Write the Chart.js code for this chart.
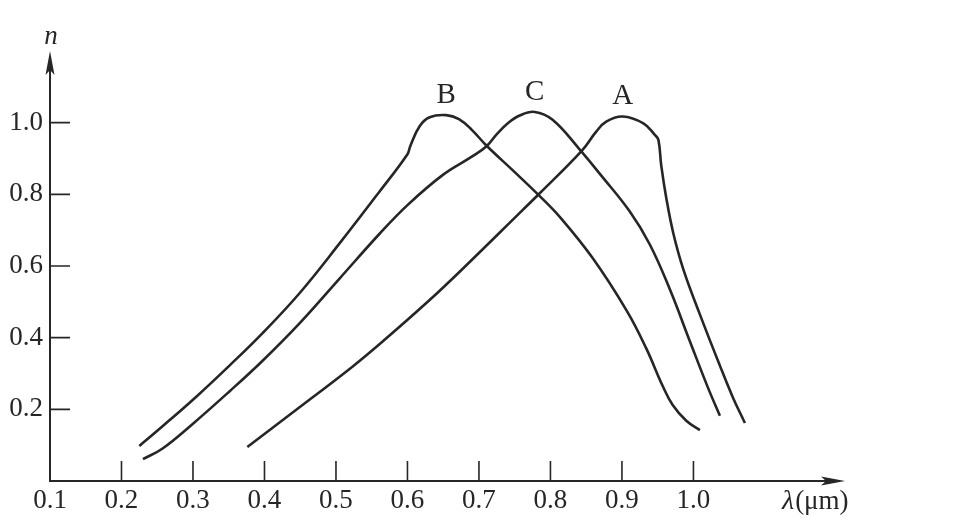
<!DOCTYPE html>
<html>
<head>
<meta charset="utf-8">
<script src="https://cdn.jsdelivr.net/npm/chart.js@4.4.1/dist/chart.umd.min.js"></script>
<style>
html,body{margin:0;padding:0;background:#fff;}
#wrap{width:977px;height:525px;}
</style>
</head>
<body>
<div id="wrap"><canvas id="c" width="977" height="525"></canvas></div>
<script>
// ---- data ----
const curveNames = ['A', 'B', 'C'];

const aX = [0.376, 0.444, 0.523, 0.568, 0.631, 0.673, 0.761, 0.785, 0.844, 0.864, 0.878, 0.901, 0.930, 0.946, 0.951, 0.955, 0.962, 0.972, 0.986, 1.009, 1.037, 1.055, 1.072];
const aY = [0.095, 0.198, 0.319, 0.394, 0.505, 0.584, 0.756, 0.803, 0.922, 0.975, 1.003, 1.017, 0.998, 0.966, 0.952, 0.880, 0.790, 0.690, 0.590, 0.465, 0.322, 0.234, 0.162];

const bX = [0.225, 0.257, 0.305, 0.351, 0.397, 0.449, 0.505, 0.561, 0.600, 0.604, 0.617, 0.631, 0.654, 0.672, 0.690, 0.710, 0.750, 0.785, 0.813, 0.859, 0.907, 0.934, 0.957, 0.971, 0.990, 1.009];
const bY = [0.098, 0.152, 0.236, 0.322, 0.412, 0.524, 0.663, 0.808, 0.912, 0.935, 0.990, 1.015, 1.021, 1.010, 0.980, 0.937, 0.862, 0.795, 0.737, 0.622, 0.474, 0.370, 0.265, 0.212, 0.168, 0.142];

const cX = [0.230, 0.257, 0.300, 0.351, 0.397, 0.449, 0.505, 0.561, 0.600, 0.650, 0.690, 0.711, 0.725, 0.740, 0.757, 0.778, 0.803, 0.841, 0.870, 0.911, 0.939, 0.967, 0.995, 1.020, 1.037];
const cY = [0.061, 0.090, 0.160, 0.250, 0.335, 0.440, 0.565, 0.690, 0.770, 0.855, 0.905, 0.935, 0.968, 0.998, 1.020, 1.030, 1.008, 0.925, 0.855, 0.752, 0.660, 0.535, 0.390, 0.262, 0.182];

const xTickValues = [0.1, 0.2, 0.3, 0.4, 0.5, 0.6, 0.7, 0.8, 0.9, 1.0];
const xTickLabels = ['0.1', '0.2', '0.3', '0.4', '0.5', '0.6', '0.7', '0.8', '0.9', '1.0'];
const yTickValues = [0.2, 0.4, 0.6, 0.8, 1.0];
const yTickLabels = ['0.2', '0.4', '0.6', '0.8', '1.0'];
const yAxisTitle = 'n';
const xAxisTitleSymbol = 'λ';
const xAxisTitleUnit = '(μm)';

// ---- build ----
function pts(xs, ys) { return xs.map((x, i) => ({ x: x, y: ys[i] })); }
const ink = '#262626';
const serif = '"Liberation Serif", "DejaVu Serif", serif';

const seriesData = { A: pts(aX, aY), B: pts(bX, bY), C: pts(cX, cY) };
const datasets = curveNames.map(n => ({
  label: n,
  data: seriesData[n],
  showLine: true,
  borderColor: ink,
  borderWidth: 2.6,
  pointRadius: 0,
  tension: 0.4,
  fill: false
}));

const axisPlugin = {
  id: 'axisPlugin',
  afterDatasetsDraw(chart) {
    const ctx = chart.ctx;
    const xs = chart.scales.x, ys = chart.scales.y;
    const x0 = xs.getPixelForValue(0.1);
    const y0 = ys.getPixelForValue(0);
    const xEnd = chart.chartArea.right;
    const yEnd = chart.chartArea.top;
    ctx.save();
    ctx.strokeStyle = ink;
    ctx.fillStyle = ink;
    ctx.lineWidth = 2;
    // axes
    ctx.beginPath();
    ctx.moveTo(x0 - 1, y0);
    ctx.lineTo(xEnd - 10, y0);
    ctx.moveTo(x0, y0 + 1);
    ctx.lineTo(x0, yEnd + 10);
    ctx.stroke();
    // arrow heads
    ctx.beginPath();
    ctx.moveTo(xEnd, y0);
    ctx.lineTo(xEnd - 24, y0 - 4.5);
    ctx.lineTo(xEnd - 19, y0);
    ctx.lineTo(xEnd - 24, y0 + 4.5);
    ctx.closePath();
    ctx.fill();
    ctx.beginPath();
    ctx.moveTo(x0, yEnd);
    ctx.lineTo(x0 - 4.5, yEnd + 24);
    ctx.lineTo(x0, yEnd + 19);
    ctx.lineTo(x0 + 4.5, yEnd + 24);
    ctx.closePath();
    ctx.fill();
    // inward tick marks
    ctx.lineWidth = 1.6;
    ctx.beginPath();
    xTickValues.forEach(v => {
      if (v <= 0.1) return;
      const px = xs.getPixelForValue(v);
      ctx.moveTo(px, y0);
      ctx.lineTo(px, y0 - 20);
    });
    yTickValues.forEach(v => {
      const py = ys.getPixelForValue(v);
      ctx.moveTo(x0, py);
      ctx.lineTo(x0 + 20, py);
    });
    ctx.stroke();
    // axis titles
    ctx.textBaseline = 'alphabetic';
    ctx.textAlign = 'center';
    ctx.font = 'italic 27px ' + serif;
    ctx.fillText(yAxisTitle, x0 + 1, yEnd - 7);
    ctx.textAlign = 'left';
    ctx.font = 'italic 28px ' + serif;
    const tx = xEnd - 63;
    const ty = y0 + 28;
    ctx.fillText(xAxisTitleSymbol, tx, ty);
    const w = ctx.measureText(xAxisTitleSymbol).width;
    ctx.font = '27px ' + serif;
    ctx.fillText(xAxisTitleUnit, tx + w + 1, ty);
    // curve letters above each peak
    ctx.font = '29px ' + serif;
    ctx.textAlign = 'center';
    ctx.textBaseline = 'middle';
    chart.data.datasets.forEach(ds => {
      let best = ds.data[0];
      ds.data.forEach(p => { if (p.y > best.y) best = p; });
      const px = xs.getPixelForValue(best.x);
      const py = ys.getPixelForValue(best.y);
      ctx.fillText(ds.label, px, py - 20);
    });
    ctx.restore();
  }
};

new Chart(document.getElementById('c'), {
  type: 'scatter',
  data: { datasets: datasets },
  options: {
    responsive: false,
    animation: false,
    devicePixelRatio: 1,
    layout: { padding: { top: 51, right: 132, left: 0, bottom: 0 } },
    plugins: { legend: { display: false }, tooltip: { enabled: false } },
    scales: {
      x: {
        type: 'linear',
        min: 0.1,
        max: 1.212,
        afterBuildTicks: s => { s.ticks = xTickValues.map(v => ({ value: v })); },
        afterFit: s => { s.height = 44; },
        ticks: {
          callback: (v) => { const i = xTickValues.findIndex(t => Math.abs(t - v) < 1e-6); return i >= 0 ? xTickLabels[i] : ''; },
          font: { family: serif, size: 27 },
          color: ink,
          padding: 4,
          maxRotation: 0,
          autoSkip: false
        },
        grid: { display: false, drawTicks: false },
        border: { display: false }
      },
      y: {
        type: 'linear',
        min: 0,
        max: 1.2,
        afterBuildTicks: s => { s.ticks = yTickValues.map(v => ({ value: v })); },
        afterFit: s => { s.width = 50; },
        ticks: {
          callback: (v) => { const i = yTickValues.findIndex(t => Math.abs(t - v) < 1e-6); return i >= 0 ? yTickLabels[i] : ''; },
          font: { family: serif, size: 27 },
          color: ink,
          padding: 7,
          autoSkip: false
        },
        grid: { display: false, drawTicks: false },
        border: { display: false }
      }
    }
  },
  plugins: [axisPlugin]
});
</script>
</body>
</html>
